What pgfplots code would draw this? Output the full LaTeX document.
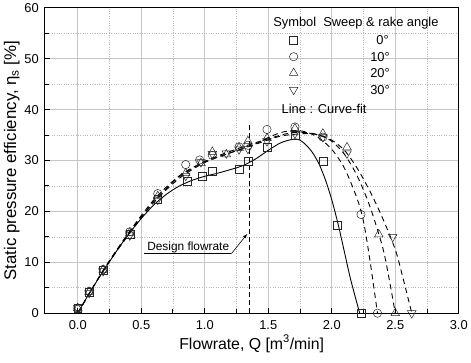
\documentclass[border=0pt]{standalone}
\usepackage{fontspec}
\setmainfont{Liberation Sans}
\usepackage{pgfplots}
\pgfplotsset{compat=1.18}
\begin{document}
\begin{tikzpicture}
\begin{axis}[
  scale only axis, width=416.7bp, height=307.3bp,
  xmin=-0.26, xmax=3.0, ymin=0, ymax=60,
  xtick={0,0.5,...,3.0}, ytick={0,10,...,60},
  minor x tick num=1, minor y tick num=1,
  grid=both,
  major grid style={gray!45, line width=0.9pt},
  minor grid style={gray!55, dotted, line width=0.6pt},
  axis line style={line width=1.3pt},
  tick pos=left, tick align=inside,
  major tick length=5bp, minor tick length=4bp,
  every tick/.style={black, line width=1pt},
  /pgf/number format/assume math mode=true,
  tick label style={font=\fontsize{13}{15}\selectfont},
  x tick label style={yshift=-3.5bp, /pgf/number format/fixed, /pgf/number format/fixed zerofill, /pgf/number format/precision=1},
  y tick label style={xshift=-2.5bp},
  xlabel={Flowrate, Q [m\textsuperscript{3}/min]},
  ylabel={Static pressure efficiency, η\textsubscript{s} [\%]},
  xlabel style={font=\fontsize{16}{18}\selectfont, yshift=1bp},
  ylabel style={font=\fontsize{17}{19}\selectfont, yshift=-2bp},
  clip=false,
  mark size=4bp,
]
\path (rel axis cs:0,0) ++(-45bp,-50bp) (rel axis cs:1,1) ++(9.3bp,6.7bp);
% curve fits
\addplot[black, line width=0.9pt, smooth] coordinates {(0,0)(0.1,4.3)(0.2,8.2)(0.3,12)(0.4,15.5)(0.5,18.6)(0.6,21.3)(0.7,23.4)(0.8,25)(0.9,26.1)(1.0,26.9)(1.1,27.5)(1.2,28.2)(1.3,29.0)(1.4,30.3)(1.5,32)(1.6,33.5)(1.7,34.2)(1.75,34.0)(1.8,33.0)(1.85,31.5)(1.9,29.3)(1.95,26.2)(2.0,22.3)(2.05,17.5)(2.1,12)(2.15,6.5)(2.22,0)};
\addplot[black, line width=0.9pt, dash pattern=on 5.5bp off 4bp, smooth] coordinates {(0,0)(0.2,8.4)(0.4,15.8)(0.6,22.3)(0.8,27.0)(1.0,29.8)(1.2,31.5)(1.4,33.3)(1.5,34.5)(1.6,35.5)(1.7,35.9)(1.8,35.6)(1.9,34.4)(2.0,32.2)(2.1,28.5)(2.2,22.5)(2.25,18)(2.3,10.5)(2.36,0)};
\addplot[black, line width=0.9pt, dash pattern=on 5.5bp off 4bp, smooth] coordinates {(0,0)(0.2,8.4)(0.4,15.6)(0.6,22.0)(0.8,26.8)(1.0,29.8)(1.2,31.8)(1.4,33.5)(1.6,35.0)(1.7,35.5)(1.8,35.5)(1.9,35.0)(2.0,33.8)(2.1,31.2)(2.2,27.0)(2.3,21.0)(2.4,13)(2.45,7)(2.5,0)};
\addplot[black, line width=0.9pt, dash pattern=on 5.5bp off 4bp, smooth] coordinates {(0,0)(0.2,8.3)(0.4,15.4)(0.6,21.8)(0.8,26.5)(1.0,29.6)(1.2,31.5)(1.4,33.2)(1.6,34.8)(1.8,35.3)(1.9,35.0)(2.0,34.0)(2.1,32.0)(2.2,28.5)(2.3,24)(2.4,18.7)(2.5,12.5)(2.56,7)(2.63,0)};
% measured data
\addplot[black!85, only marks, mark=square, line width=0.5pt] coordinates {(0,1)(0.09,4.1)(0.2,8.4)(0.41,15.6)(0.63,22.3)(0.86,26.0)(0.98,27.0)(1.06,27.9)(1.27,28.3)(1.34,29.8)(1.49,32.7)(1.71,35.0)(1.93,29.8)(2.04,17.3)(2.23,0)};
\addplot[black!85, only marks, mark=o, line width=0.5pt, mark size=4.2bp] coordinates {(0,1)(0.09,4.3)(0.2,8.6)(0.41,16.0)(0.63,23.5)(0.85,29.2)(0.96,30.1)(1.06,31.0)(1.27,32.7)(1.34,33.0)(1.49,36.1)(1.71,36.6)(1.93,34.6)(2.23,19.4)(2.36,0)};
\addplot[black!85, only marks, mark=triangle, line width=0.5pt, mark size=5bp] coordinates {(0,1)(0.09,4.2)(0.2,8.5)(0.41,15.8)(0.63,23.0)(0.85,27.5)(0.97,29.5)(1.06,31.7)(1.17,31.2)(1.27,32.5)(1.34,33.8)(1.49,34.4)(1.71,36.3)(1.93,35.3)(2.12,32.6)(2.37,15.5)(2.50,0)};
\addplot[black!85, only marks, mark=triangle, mark options={rotate=180}, line width=0.5pt, mark size=5bp] coordinates {(0,1)(0.09,4.0)(0.2,8.3)(0.41,15.3)(0.63,22.3)(0.85,27.0)(0.97,29.7)(1.06,31.3)(1.17,31.4)(1.27,32.2)(1.34,32.3)(1.49,33.8)(1.71,35.3)(1.93,34.6)(2.12,31.4)(2.48,15.0)(2.63,0)};
% design flowrate
\draw[black, line width=0.9pt, dash pattern=on 5bp off 3bp] (axis cs:1.35,0) -- (axis cs:1.35,37.3);
\node[font=\fontsize{12}{14}\selectfont, anchor=base] at (axis cs:0.87,12.4) {Design flowrate};
\draw[black, line width=0.6pt] (axis cs:0.52,11.7) -- (axis cs:1.21,11.7);
\draw[black, line width=0.6pt, -latex] (axis cs:1.21,11.7) -- (axis cs:1.335,15.6);
% legend block
\node[font=\fontsize{13}{15}\selectfont] at (axis cs:2.19,56.9) {Symbol\ \ Sweep \& rake angle};
\addplot[black!85, only marks, mark=square, line width=0.5pt] coordinates {(1.70,53.6)};
\addplot[black!85, only marks, mark=o, line width=0.5pt, mark size=4.2bp] coordinates {(1.70,50.4)};
\addplot[black!85, only marks, mark=triangle, line width=0.5pt, mark size=5bp] coordinates {(1.70,47.2)};
\addplot[black!85, only marks, mark=triangle, mark options={rotate=180}, line width=0.5pt, mark size=5bp] coordinates {(1.70,43.9)};
\node[font=\fontsize{13}{15}\selectfont] at (axis cs:2.40,53.6) {0°};
\node[font=\fontsize{13}{15}\selectfont] at (axis cs:2.38,50.4) {10°};
\node[font=\fontsize{13}{15}\selectfont] at (axis cs:2.38,47.2) {20°};
\node[font=\fontsize{13}{15}\selectfont] at (axis cs:2.38,43.9) {30°};
\node[font=\fontsize{13}{15}\selectfont] at (axis cs:1.94,40.2) {Line : Curve-fit};
\end{axis}
\end{tikzpicture}
\end{document}
